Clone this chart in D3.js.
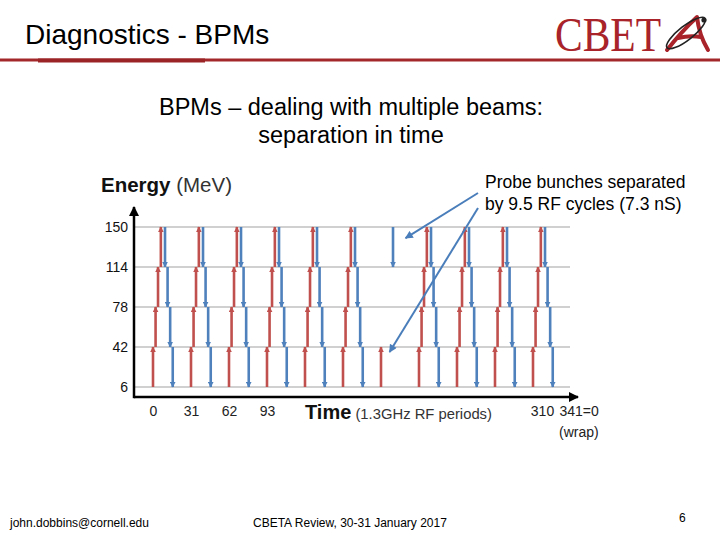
<!DOCTYPE html>
<html>
<head>
<meta charset="utf-8">
<script src="https://cdn.jsdelivr.net/npm/d3@7"></script>
<style>
  body { margin: 0; background: white; }
  svg { display: block; font-family: "Liberation Sans", Arial, sans-serif; }
  .grid { stroke: #c0c0c0; stroke-width: 1.5; }
  .acc { stroke: #c0504d; stroke-width: 2.6; fill: none; }
  .dec { stroke: #4f81bd; stroke-width: 2.6; fill: none; }
  .axisline { stroke: black; stroke-width: 2.5; fill: none; }
  .note { stroke: #4a7ebb; stroke-width: 2; fill: none; }
</style>
</head>
<body>
<div id="slide"></div>
<script>
// energy levels (MeV)
var energies = [6, 42, 78, 114, 150];
// start of each full bunch train (RF periods)
var bunchTimes = [0, 31, 62, 93, 124, 155, 217, 248, 279, 310];
// probe bunch slot: only first pass up and first pass down shown
var probeTimes = [186];
// time of each pass after the bunch start (RF periods)
var accOffsets = [0, 2.1, 4.1, 6.4];    // 6->42, 42->78, 78->114, 114->150
var decOffsets = [9.8, 11.9, 14.0, 16.1]; // 150->114, 114->78, 78->42, 42->6
var xTicks = [0, 31, 62, 93, 310, 341];

var width = 720, height = 540;

var svg = d3.select("#slide")
  .append("svg")
  .attr("width", width)
  .attr("height", height);

var defs = svg.append("defs");

function arrowMarker(id, color, w, h) {
  defs.append("marker")
    .attr("id", id)
    .attr("viewBox", "0 0 10 10")
    .attr("refX", 9)
    .attr("refY", 5)
    .attr("markerUnits", "userSpaceOnUse")
    .attr("markerWidth", w)
    .attr("markerHeight", h)
    .attr("orient", "auto")
    .append("path")
    .attr("d", "M0,0 L10,5 L0,10 z")
    .attr("fill", color);
}
arrowMarker("m-acc", "#c0504d", 6, 6);
arrowMarker("m-dec", "#4f81bd", 6, 6);
arrowMarker("m-axis", "black", 12, 10);
arrowMarker("m-note", "#4a7ebb", 9, 8);

// header
svg.append("text")
  .attr("x", 25)
  .attr("y", 44)
  .style("font-size", "28px")
  .text("Diagnostics - BPMs");

svg.append("line")
  .attr("x1", 0).attr("x2", 720)
  .attr("y1", 60).attr("y2", 60)
  .attr("stroke", "#a3282b")
  .attr("stroke-width", 3);
svg.append("line")
  .attr("x1", 38).attr("x2", 205)
  .attr("y1", 60.5).attr("y2", 60.5)
  .attr("stroke", "#9a2426")
  .attr("stroke-width", 4);

// logo
var logo = svg.append("g");
logo.append("text")
  .attr("x", 555)
  .attr("y", 51)
  .attr("textLength", 106)
  .attr("lengthAdjust", "spacingAndGlyphs")
  .style("font-family", "'Liberation Serif', 'DejaVu Serif', serif")
  .style("font-size", "48px")
  .style("fill", "#a8232a")
  .text("CBET");
// script "A" mark
logo.append("path")
  .attr("d", "M667,50 Q682,31 697,17 M697,17 Q699,35 708,50 M678,38 Q690,35 701,37")
  .attr("fill", "none")
  .attr("stroke", "#a8232a")
  .attr("stroke-width", 4)
  .attr("stroke-linecap", "round");
logo.append("ellipse")
  .attr("cx", 0).attr("cy", 0)
  .attr("rx", 24).attr("ry", 7)
  .attr("transform", "translate(686,33) rotate(-38)")
  .attr("fill", "none")
  .attr("stroke", "#222")
  .attr("stroke-width", 1.6);
logo.append("circle")
  .attr("cx", 704).attr("cy", 20).attr("r", 2.6)
  .attr("fill", "#222");

// subtitle
svg.append("text")
  .attr("x", 351)
  .attr("y", 115)
  .attr("text-anchor", "middle")
  .style("font-size", "23.5px")
  .text("BPMs \u2013 dealing with multiple beams:");
svg.append("text")
  .attr("x", 351)
  .attr("y", 143)
  .attr("text-anchor", "middle")
  .style("font-size", "23.5px")
  .text("separation in time");

// chart
var xscale = d3.scaleLinear().domain([0, 341]).range([153, 571]);
var yscale = d3.scaleLinear().domain([6, 150]).range([387, 227]);
var axisX = 134, axisY = 397;

svg.append("g")
  .selectAll("line")
  .data(energies)
  .enter().append("line")
  .attr("class", "grid")
  .attr("x1", axisX)
  .attr("x2", xscale(341) - 1)
  .attr("y1", d => yscale(d))
  .attr("y2", d => yscale(d));

var segments = [];
bunchTimes.forEach(function (t0) {
  accOffsets.forEach(function (o, i) {
    segments.push({ t: t0 + o, e0: energies[i], e1: energies[i + 1], kind: "acc" });
  });
  decOffsets.forEach(function (o, i) {
    segments.push({ t: t0 + o, e0: energies[4 - i], e1: energies[3 - i], kind: "dec" });
  });
});
probeTimes.forEach(function (t0) {
  segments.push({ t: t0 + accOffsets[0], e0: energies[0], e1: energies[1], kind: "acc" });
  segments.push({ t: t0 + decOffsets[0], e0: energies[4], e1: energies[3], kind: "dec" });
});

svg.append("g")
  .selectAll("line")
  .data(segments)
  .enter().append("line")
  .attr("class", d => d.kind)
  .attr("x1", d => xscale(d.t))
  .attr("x2", d => xscale(d.t))
  .attr("y1", d => yscale(d.e0))
  .attr("y2", d => yscale(d.e1))
  .attr("marker-end", d => "url(#m-" + d.kind + ")");

// axes
svg.append("line")
  .attr("class", "axisline")
  .attr("x1", axisX).attr("x2", axisX)
  .attr("y1", axisY + 1.2).attr("y2", 207)
  .attr("marker-end", "url(#m-axis)");
svg.append("line")
  .attr("class", "axisline")
  .attr("x1", axisX).attr("x2", 578)
  .attr("y1", axisY).attr("y2", axisY)
  .attr("marker-end", "url(#m-axis)");

var yAxis = svg.append("g")
  .attr("transform", "translate(" + axisX + ",0)")
  .call(d3.axisLeft(yscale).tickValues(energies).tickSize(0).tickPadding(6));
yAxis.select(".domain").remove();
yAxis.selectAll("text")
  .style("font-family", "'Liberation Sans', Arial, sans-serif")
  .style("font-size", "14px")
  .style("fill", "#111");

var xAxis = svg.append("g")
  .attr("transform", "translate(0," + axisY + ")")
  .call(d3.axisBottom(xscale).tickValues(xTicks).tickSize(0).tickPadding(9)
    .tickFormat(d => d == 341 ? "341=0" : d));
xAxis.select(".domain").remove();
xAxis.selectAll("text")
  .style("font-family", "'Liberation Sans', Arial, sans-serif")
  .style("font-size", "14px")
  .style("fill", "#222")
  .attr("text-anchor", d => d == 341 ? "start" : "middle")
  .attr("dx", d => d == 341 ? -12 : (d == 310 ? 9 : 0));

svg.append("text")
  .attr("x", xscale(341) - 12)
  .attr("y", 437)
  .style("font-size", "14px")
  .style("fill", "#222")
  .text("(wrap)");

// axis titles
var ylab = svg.append("text")
  .attr("x", 101)
  .attr("y", 192)
  .style("font-size", "20.5px")
  .style("fill", "#111");
ylab.append("tspan").style("font-weight", "bold").text("Energy");
ylab.append("tspan").style("fill", "#333").text(" (MeV)");

var xlab = svg.append("text")
  .attr("x", 305)
  .attr("y", 419)
  .style("fill", "#111");
xlab.append("tspan").style("font-weight", "bold").style("font-size", "20px").text("Time");
xlab.append("tspan").style("font-size", "14.8px").style("fill", "#333").text(" (1.3GHz RF periods)");

// annotation
svg.append("text")
  .attr("x", 485)
  .attr("y", 188)
  .style("font-size", "17.5px")
  .text("Probe bunches separated");
svg.append("text")
  .attr("x", 485)
  .attr("y", 210)
  .style("font-size", "17.5px")
  .text("by 9.5 RF cycles (7.3 nS)");

svg.append("line")
  .attr("class", "note")
  .attr("x1", 478).attr("y1", 193)
  .attr("x2", xscale(206)).attr("y2", yscale(140))
  .attr("marker-end", "url(#m-note)");
svg.append("line")
  .attr("class", "note")
  .attr("x1", 478).attr("y1", 208)
  .attr("x2", xscale(193)).attr("y2", yscale(37.5))
  .attr("marker-end", "url(#m-note)");

// footer
svg.append("text")
  .attr("x", 10).attr("y", 527)
  .style("font-size", "12px")
  .text("john.dobbins@cornell.edu");
svg.append("text")
  .attr("x", 253).attr("y", 527)
  .style("font-size", "12px")
  .text("CBETA Review, 30-31 January 2017");
svg.append("text")
  .attr("x", 679).attr("y", 522)
  .style("font-size", "12px")
  .text("6");
</script>
</body>
</html>
